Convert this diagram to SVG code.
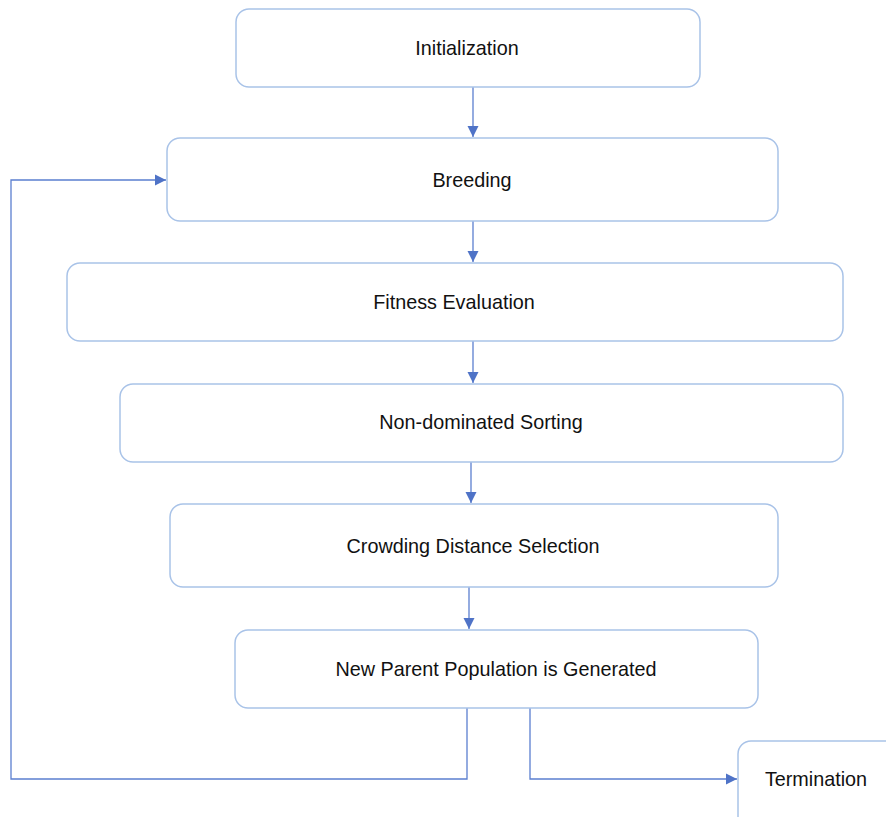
<svg xmlns="http://www.w3.org/2000/svg" width="886" height="817" viewBox="0 0 886 817">
<defs>
<style>
.box{fill:#fff;stroke:#a9c3e8;stroke-width:1.5}
.lbl{font-family:"Liberation Sans",Arial,sans-serif;font-size:19.8px;fill:#111;text-anchor:middle;dominant-baseline:central}
.con{fill:none;stroke:#5b7fd0;stroke-width:1.3}
</style>
<marker id="ah" markerWidth="12" markerHeight="12" refX="11" refY="6" orient="auto" markerUnits="userSpaceOnUse">
<path d="M0,0.5 L11,6 L0,11.5 Z" fill="#4f73c7"/>
</marker>
</defs>
<rect width="886" height="817" fill="#fff"/>
<g id="connectors">
<line class="con" x1="473" y1="87" x2="473" y2="137" marker-end="url(#ah)"/>
<line class="con" x1="473" y1="221" x2="473" y2="262" marker-end="url(#ah)"/>
<line class="con" x1="473" y1="341" x2="473" y2="383" marker-end="url(#ah)"/>
<line class="con" x1="471" y1="462" x2="471" y2="503" marker-end="url(#ah)"/>
<line class="con" x1="469" y1="587" x2="469" y2="629" marker-end="url(#ah)"/>
<polyline class="con" points="467,708 467,779 11,779 11,180 166,180" marker-end="url(#ah)"/>
<polyline class="con" points="530,708 530,779 737,779" marker-end="url(#ah)"/>
</g>
<g id="initialization"><rect class="box" x="236" y="9" width="464" height="78" rx="13"/><text class="lbl" x="467" y="48">Initialization</text></g>
<g id="breeding"><rect class="box" x="167" y="138" width="611" height="83" rx="13"/><text class="lbl" x="472" y="180">Breeding</text></g>
<g id="fitness"><rect class="box" x="67" y="263" width="776" height="78" rx="13"/><text class="lbl" x="454" y="302">Fitness Evaluation</text></g>
<g id="sorting"><rect class="box" x="120" y="384" width="723" height="78" rx="13"/><text class="lbl" x="481" y="422">Non-dominated Sorting</text></g>
<g id="crowding"><rect class="box" x="170" y="504" width="608" height="83" rx="13"/><text class="lbl" x="473" y="546">Crowding Distance Selection</text></g>
<g id="newparent"><rect class="box" x="235" y="630" width="523" height="78" rx="13"/><text class="lbl" x="496" y="669">New Parent Population is Generated</text></g>
<g id="termination"><rect class="box" x="738" y="741" width="170" height="90" rx="13"/><text class="lbl" x="816" y="779">Termination</text></g>
</svg>
